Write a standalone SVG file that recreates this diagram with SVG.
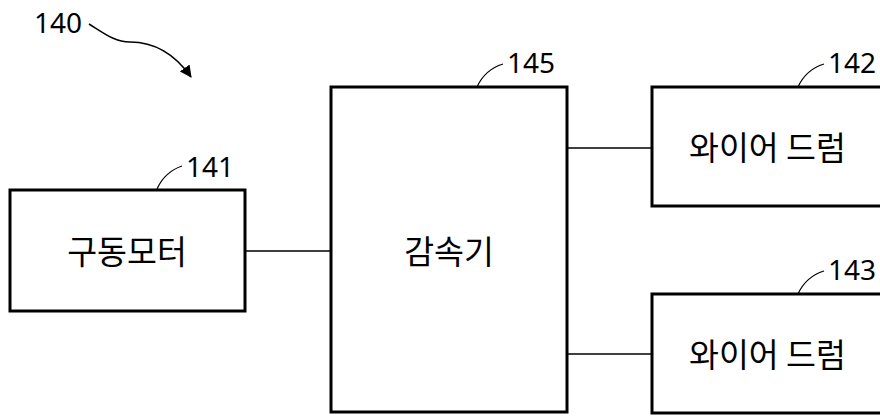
<svg xmlns="http://www.w3.org/2000/svg" width="880" height="416" viewBox="0 0 880 416">
<style>
.box{fill:#fff;stroke:#000;stroke-width:3}
.conn{stroke:#000;stroke-width:1.5;fill:none}
.lead{stroke:#000;stroke-width:1.2;fill:none}
.lbl{font-family:"Noto Sans CJK KR","Noto Sans",sans-serif;font-size:32.5px;fill:#000}
.num{font-family:"Noto Sans","Noto Sans CJK KR",sans-serif;font-size:28px;fill:#000}
</style>
<defs>
<marker id="ah" markerWidth="12" markerHeight="12" refX="11" refY="6" orient="auto" markerUnits="userSpaceOnUse" viewBox="0 0 12 12">
<path d="M0,0 L12,6 L0,12 z" fill="#000"/>
</marker>
</defs>
<g id="ref140">
<text class="num" x="34" y="33">140</text>
<path class="lead" d="M89,24 C105,34 115,42 130,42 C150,42 172,50 191,77" marker-end="url(#ah)" style="stroke-width:1.5"/>
</g>
<g id="connectors">
<line class="conn" x1="245" y1="251" x2="331" y2="251"/>
<line class="conn" x1="567" y1="148" x2="651" y2="148"/>
<line class="conn" x1="567" y1="354" x2="651" y2="354"/>
</g>
<g id="node141">
<rect class="box" x="10" y="190" width="235" height="121"/>
<text class="lbl" x="127" y="264" text-anchor="middle">구동모터</text>
<path class="lead" d="M157,189 C162,178 170,170 182,166"/>
<text class="num" x="186" y="177">141</text>
</g>
<g id="node145">
<rect class="box" x="331" y="87" width="236" height="325"/>
<text class="lbl" x="449" y="264" text-anchor="middle">감속기</text>
<path class="lead" d="M477,87 C482,76 490,68 503,64"/>
<text class="num" x="507" y="73">145</text>
</g>
<g id="node142">
<rect class="box" x="652" y="87" width="240" height="119"/>
<text class="lbl" x="689" y="160">와이어 드럼</text>
<path class="lead" d="M798,87 C803,76 811,68 824,64"/>
<text class="num" x="828" y="73">142</text>
</g>
<g id="node143">
<rect class="box" x="652" y="294" width="240" height="119"/>
<text class="lbl" x="689" y="367">와이어 드럼</text>
<path class="lead" d="M798,294 C803,283 811,275 824,271"/>
<text class="num" x="828" y="280">143</text>
</g>
</svg>
